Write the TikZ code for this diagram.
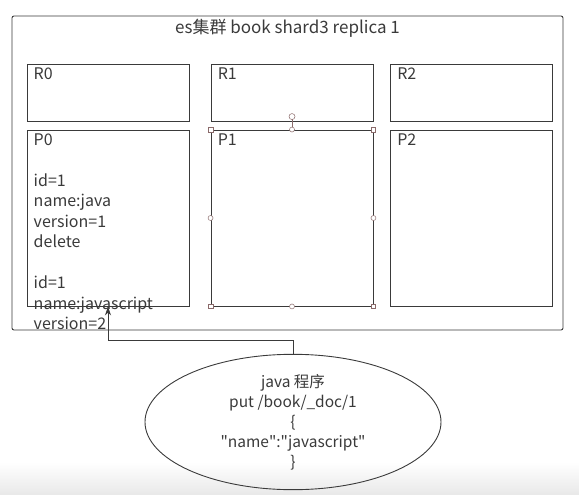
\documentclass[tikz,border=0pt]{standalone}
\usepackage{fontspec}
\newfontfamily\cjk{Noto Sans CJK SC}
\usetikzlibrary{shapes.geometric,calc,arrows.meta}
\definecolor{linea}{HTML}{3A3A3A}
\definecolor{asa}{HTML}{8A6A6A}
\tikzset{
  caja/.style={draw=linea, line width=0.9pt, rectangle, inner sep=0pt},
  texto/.style={text=linea, font=\cjk\fontsize{16}{20.5}\selectfont, inner sep=0pt},
  asacuad/.style={draw=asa, fill=white, line width=0.5pt, rectangle, minimum size=4.5pt, inner sep=0pt},
  asacirc/.style={draw=asa, fill=white, line width=0.5pt, circle, minimum size=5pt, inner sep=0pt},
  flecha/.style={draw=linea, line width=0.9pt, -{Stealth[length=9pt,width=6pt]}}
}
\begin{document}
\begin{tikzpicture}[x=1pt,y=-1pt]
  \useasboundingbox (0,0) rectangle (579,495);
  % Fondo inferior
  \shade[top color=white, bottom color=black!9] (0,462) rectangle (579,495);

  % Cluster
  \node[caja, rounded corners=2pt, minimum width=551, minimum height=314] (cluster) at (287.5,173) {};
  \node[texto, font=\cjk\fontsize{17}{20}\selectfont, anchor=north] (titulo) at ([yshift=-3]cluster.north)
    {es集群 book shard3 replica 1};

  % Replicas y primarios
  \foreach \i/\x in {0/108, 1/292, 2/471.5} {
    \node[caja, minimum width=162, minimum height=57] (R\i) at (\x,92.5) {};
    \node[texto, anchor=north west] at ([xshift=7,yshift=-4]R\i.north west) {R\i};
    \node[caja, minimum width=162, minimum height=176] (P\i) at (\x,218) {};
  }
  \node[texto, anchor=north west] at ([xshift=7,yshift=-4]P1.north west) {P1};
  \node[texto, anchor=north west] at ([xshift=7,yshift=-4]P2.north west) {P2};
  \node[texto, anchor=north west, align=left] (doc) at ([xshift=7,yshift=-4]P0.north west)
    {P0\\ \\id=1\\name:java\\version=1\\delete\\ \\id=1\\name:javascript\\version=2};

  % Asas de seleccion en P1
  \coordinate (giro) at ($(P1.north)+(0,-13)$);
  \draw[asa, line width=0.5pt] (P1.north) -- (giro);
  \node[asacirc, minimum size=6pt] at (giro) {};
  \foreach \a in {north west, north east, south west, south east}
    \node[asacuad] at (P1.\a) {};
  \foreach \a in {north, south, west, east}
    \node[asacirc] at (P1.\a) {};

  % Programa java
  \node[ellipse, draw=linea, line width=0.9pt, minimum width=296, minimum height=106, inner sep=0pt,
        texto, font=\cjk\fontsize{15.5}{20}\selectfont, align=center] (prog) at (293,422)
    {java 程序\\put /book/\_doc/1\\\{\\"name":"javascript"\\\}};

  % Peticion
  \coordinate (codo) at (108,340);
  \draw[flecha] (prog.north) |- (codo) -- (P0.south);
\end{tikzpicture}
\end{document}
